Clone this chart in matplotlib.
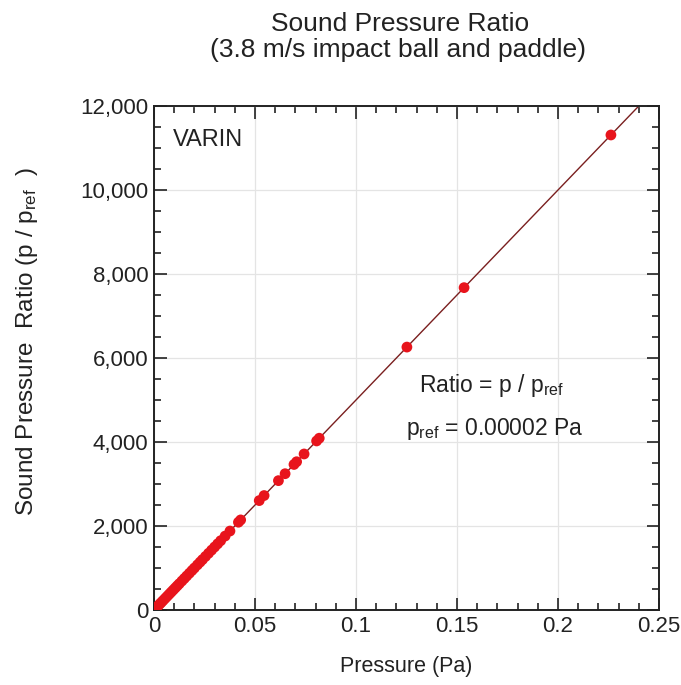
import matplotlib
matplotlib.use("Agg")
import matplotlib.pyplot as plt
from matplotlib.ticker import MultipleLocator, FuncFormatter

plt.rcParams['font.family'] = ['Liberation Sans', 'DejaVu Sans']
plt.rcParams['mathtext.default'] = 'regular'

# Measured data: pressure (Pa) and sound pressure ratio
pressure = [0.2262, 0.1535, 0.1252, 0.0818, 0.0805, 0.0743, 0.0706, 0.0693,
            0.0649, 0.0616, 0.0545, 0.0521, 0.0429, 0.0418, 0.0376, 0.0352,
            0.0330, 0.0315, 0.0300, 0.0285, 0.0270, 0.0255, 0.0240, 0.0228,
            0.0215, 0.0200, 0.0188, 0.0175, 0.0162, 0.0150, 0.0138, 0.0125,
            0.0115, 0.0105, 0.0095, 0.0085, 0.0075, 0.0065, 0.0055, 0.0045,
            0.0036, 0.0028, 0.0020, 0.0013, 0.0007, 0.0002]
ratio = [11310, 7675, 6260, 4090, 4025, 3715, 3530, 3465,
         3245, 3080, 2725, 2605, 2145, 2090, 1880, 1760,
         1650, 1575, 1500, 1425, 1350, 1275, 1200, 1140,
         1075, 1000, 940, 875, 810, 750, 690, 625,
         575, 525, 475, 425, 375, 325, 275, 225,
         180, 140, 100, 65, 35, 10]

# Fitted line endpoints
fit_x = [0.0, 0.24]
fit_y = [0, 12000]

fig = plt.figure(figsize=(6.81, 6.85), dpi=100)
ax = fig.add_axes([154/681, 1-610/685, (659-154)/681, (610-106)/685])

ax.plot(fit_x, fit_y, color='#7a1f1f', lw=1.0, zorder=2)
ax.scatter(pressure, ratio, s=60, color='#e8141c', edgecolors='none', zorder=3)

ax.set_xlim(0, 0.25)
ax.set_ylim(0, 12000)
ax.xaxis.set_major_locator(MultipleLocator(0.05))
ax.xaxis.set_minor_locator(MultipleLocator(0.01))
ax.yaxis.set_major_locator(MultipleLocator(2000))
ax.yaxis.set_minor_locator(MultipleLocator(500))
ax.xaxis.set_major_formatter(FuncFormatter(lambda v, p: '%g' % round(v, 3)))
ax.yaxis.set_major_formatter(FuncFormatter(lambda v, p: '{:,.0f}'.format(v)))

ax.tick_params(which='both', direction='in', top=True, right=True, width=1.2,
               colors='#222222', labelsize=16)
ax.tick_params(which='major', length=9, pad=4)
ax.tick_params(which='minor', length=5)
ax.grid(True, which='major', color='#e4e4e4', lw=0.9, zorder=0)
for s in ax.spines.values():
    s.set_linewidth(1.4)
    s.set_color('#222222')

ax.set_xlabel('Pressure (Pa)', fontsize=15.5, labelpad=14, color='#222222')
fig.text(27/681, 1-341.5/685, 'Sound Pressure  Ratio (p / p$_{ref}$  )',
         fontsize=17.5, rotation=90, ha='center', va='center', color='#222222')

ax.text(0.0094, 11200, 'VARIN', fontsize=17, va='center', ha='left', color='#222222')
ax.text(0.131, 5350, 'Ratio = p / p$_{ref}$', fontsize=16.5, va='center', ha='left', color='#222222')
ax.text(0.125, 4300, 'p$_{ref}$ = 0.00002 Pa', fontsize=16.5, va='center', ha='left', color='#222222')

fig.text(400/681, 1-24/685, 'Sound Pressure Ratio', fontsize=19, ha='center', va='center', color='#222222')
fig.text(398/681, 1-50/685, '(3.8 m/s impact ball and paddle)', fontsize=19, ha='center', va='center', color='#222222')

fig.savefig('out.png', dpi=100)
